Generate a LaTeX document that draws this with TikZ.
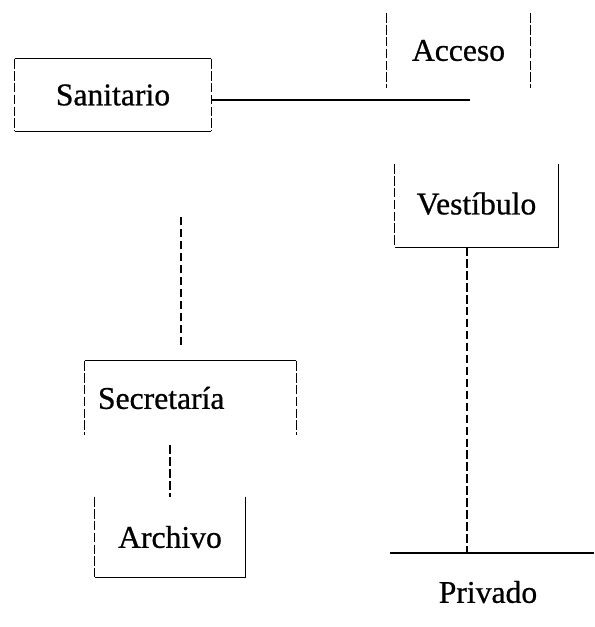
\documentclass[tikz,border=0pt]{standalone}
\usepackage{fontspec}
\setmainfont{Liberation Serif}
\newfontfamily\roomfont[FakeBold=0.7]{Liberation Serif}
\usepackage{tikz}
\usetikzlibrary{positioning}

\begin{document}
\begin{tikzpicture}[x=0.025cm, y=-0.025cm, every node/.style={font=\roomfont\fontsize{22.5}{26}\selectfont}]
  % Styles
  \tikzset{
    room/.style={rectangle, inner sep=0pt, text centered},
    side/.style={line width=0.9pt},
    brokenside/.style={side, dash pattern=on 7pt off 1.5pt},
    link/.style={line width=0.9pt},
    dashlink/.style={link, dash pattern=on 6pt off 2.5pt}
  }
  \useasboundingbox (0,0) rectangle (594,627);

  % Rooms
  \node (san) [room, minimum width=4.9cm, minimum height=1.8cm] at (113,95) {Sanitario};
  \node (acc) [room, minimum width=3.575cm, minimum height=1.875cm] at (458.5,50.5) {\raisebox{-3pt}{Acceso}};
  \node (vest) [room, minimum width=4.075cm, minimum height=2.075cm] at (476.5,205.5) {\raisebox{3pt}{Vestíbulo}};
  \node (sec) [room, minimum width=5.275cm, minimum height=1.85cm, inner xsep=0.325cm, text width=4.625cm, align=left] at (190.5,398) {Secretaría};
  \node (arch) [room, minimum width=3.75cm, minimum height=2.0cm] at (170,537) {\raisebox{-2pt}{Archivo}};
  \node (priv) at (488,592) {Privado};

  % Free ends
  \coordinate (accend) at (470,100);
  \coordinate (pleft) at (390,553);
  \coordinate (pright) at (594,553);
  \coordinate (vjoin) at (467,553);
  \coordinate (uptop) at (181,217);
  \coordinate (upbot) at (181,345);

  % Sides
  \draw [side] (san.north west) -- (san.north east);
  \draw [side] (san.south west) -- (san.south east);
  \draw [brokenside] (san.north west) -- (san.south west);
  \draw [brokenside] (san.north east) -- (san.south east);

  \draw [brokenside] (acc.north west) -- (acc.south west);
  \draw [brokenside] (acc.north east) -- (acc.south east);

  \draw [brokenside] (vest.north west) -- (vest.south west);
  \draw [side] (vest.north east) -- (vest.south east) -- (vest.south west);

  \draw [side] (sec.north west) -- (sec.north east);
  \draw [brokenside] (sec.north west) -- (sec.south west);
  \draw [brokenside] (sec.north east) -- (sec.south east);

  \draw [brokenside] (arch.north west) -- (arch.south west);
  \draw [side] (arch.north east) -- (arch.south east) -- (arch.south west);

  % Connectors
  \draw [link] (accend -| san.east) -- (accend);
  \draw [link] (pleft) -- (pright);
  \draw [dashlink] (vjoin |- vest.south) -- (vjoin);
  \draw [dashlink] (uptop) -- (upbot);
  \draw [dashlink] ([yshift=-0.25cm]sec.south -| arch.north) -- (arch.north);
\end{tikzpicture}
\end{document}
